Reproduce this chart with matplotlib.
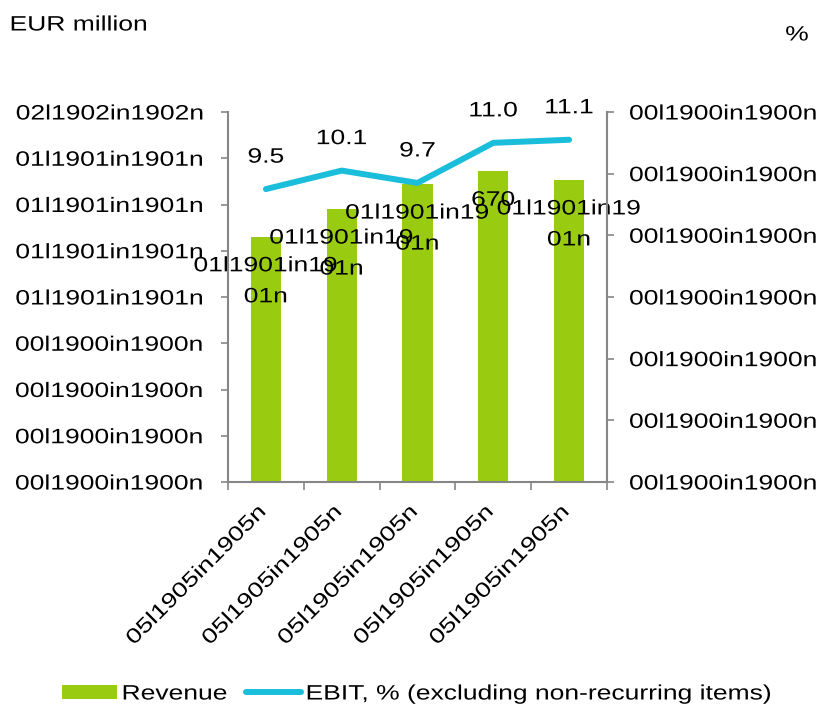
import matplotlib
matplotlib.use("Agg")
import matplotlib.pyplot as plt
from matplotlib.patches import Patch
from matplotlib.lines import Line2D
from matplotlib.patheffects import AbstractPathEffect
from matplotlib.transforms import Affine2D, ScaledTranslation
import numpy as np

plt.rcParams['font.family'] = ['Liberation Sans', 'DejaVu Sans']

# ---- data ----
categories = ["05l1905in1905n"] * 5
revenue = [530, 590, 644, 672, 653]
revenue_labels = ["01l1901in19\n01n", "01l1901in19\n01n", "01l1901in19\n01n", "670", "01l1901in19\n01n"]
ebit_pct = [9.5, 10.1, 9.7, 11.0, 11.1]
ebit_labels = ["9.5", "10.1", "9.7", "11.0", "11.1"]
left_ticks = [0, 100, 200, 300, 400, 500, 600, 700, 800]
left_tick_labels = ["00l1900in1900n"] * 4 + ["01l1901in1901n"] * 4 + ["02l1902in1902n"]
right_ticks = [0, 2, 4, 6, 8, 10, 12]
right_tick_labels = ["00l1900in1900n"] * 7

FS = 15
SX = 1.27  # horizontal stretch of the lettering, as in the reference
BAR_C = "#99CC10"
LINE_C = "#1ABEDA"
AX_C = "#868686"


class Stretch(AbstractPathEffect):
    """Widen text glyphs along the baseline around a fixed fraction of the line."""
    def __init__(self, sx, frac):
        super().__init__()
        self.sx = sx
        self.frac = frac

    def draw_path(self, renderer, gc, tpath, affine, rgbFace=None):
        ext = tpath.get_extents()
        cx = ext.x0 + self.frac * ext.width
        t = Affine2D().translate(-cx, 0).scale(self.sx, 1).translate(cx, 0) + affine
        renderer.draw_path(gc, tpath, t, rgbFace)


def st(frac):
    return [Stretch(SX, frac)]


fig = plt.figure(figsize=(8.22, 7.07), dpi=100)
ax = fig.add_axes([228/822, 1-482/707, (607-228)/822, (482-112)/707])
ax2 = ax.twinx()

x = np.arange(len(categories))
ax.bar(x, revenue, width=0.40, color=BAR_C, zorder=2)
ax.set_xlim(-0.5, len(categories) - 0.5)
ax.set_ylim(0, 800)
ax.set_yticks(left_ticks)
ax.set_yticklabels(left_tick_labels)

for xi, v, lab in zip(x, revenue, revenue_labels):
    ax.annotate(lab, (xi, v), xytext=(0, -14), textcoords='offset points',
                ha='center', va='top', fontsize=FS, linespacing=1.8, zorder=5,
                path_effects=st(0.5))

ax2.plot(x, ebit_pct, color=LINE_C, lw=4.3, solid_capstyle='round', zorder=3)
ax2.set_ylim(0, 12)
ax2.set_yticks(right_ticks)
ax2.set_yticklabels(right_tick_labels)
for xi, v, lab in zip(x, ebit_pct, ebit_labels):
    ax2.annotate(lab, (xi, v), xytext=(0, 23), textcoords='offset points',
                 ha='center', va='center', fontsize=FS, path_effects=st(0.5))

# x ticks: labels at centers, tick marks at boundaries
ax.set_xticks(x)
ax.set_xticklabels(categories, rotation=45, ha='right', va='top',
                   rotation_mode='anchor', fontsize=FS)
ax.tick_params(axis='x', which='major', length=0, pad=14)
ax.set_xticks(np.arange(-0.5, len(categories)), minor=True)
ax.tick_params(axis='x', which='minor', length=6, width=1.2, color=AX_C, direction='out')
shift = ScaledTranslation(-9/100, 0, fig.dpi_scale_trans)
for lab in ax.get_xticklabels():
    lab.set_path_effects(st(1.0))
    lab.set_transform(lab.get_transform() + shift)

ax.tick_params(axis='y', labelsize=FS, length=5, width=1.2, color=AX_C, pad=12)
ax2.tick_params(axis='y', labelsize=FS, length=5, width=1.2, color=AX_C, pad=11)
for lab in ax.get_yticklabels():
    lab.set_path_effects(st(1.0))
for lab in ax2.get_yticklabels():
    lab.set_path_effects(st(0.0))

for a in (ax, ax2):
    a.spines['top'].set_visible(False)
    for s in ('left', 'right', 'bottom'):
        a.spines[s].set_color(AX_C)
        a.spines[s].set_linewidth(1.5)
ax.spines['right'].set_visible(False)
ax2.spines['left'].set_visible(False)
ax2.spines['bottom'].set_visible(False)

fig.text(10/822, 1-25/707, "EUR million", fontsize=FS, ha='left', va='center',
         path_effects=st(0.0))
fig.text(797/822, 1-35/707, "%", fontsize=FS, ha='center', va='center',
         path_effects=st(0.5))

handles = [Patch(facecolor=BAR_C, edgecolor='none'),
           Line2D([0], [0], color=LINE_C, lw=4.3, solid_capstyle='round')]
leg = fig.legend(handles, ["Revenue", "EBIT, % (excluding non-recurring items)"],
                 loc='center left', bbox_to_anchor=(62/822, 1-694/707), ncol=2,
                 frameon=False, fontsize=FS, handlelength=2.64, handleheight=0.65,
                 handletextpad=0.24, columnspacing=1.92, borderpad=0, borderaxespad=0)
for t in leg.get_texts():
    t.set_path_effects(st(0.0))

fig.savefig("out.png", dpi=100)
